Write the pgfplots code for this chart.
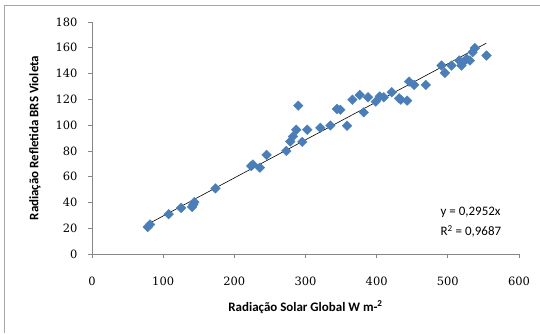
\documentclass[border=0pt]{standalone}
\usepackage{fontspec}
\setmainfont{Carlito}
\newfontfamily\tickfont{DejaVu Serif}
\usepackage{pgfplots}
\pgfplotsset{compat=1.18}
\definecolor{mk}{RGB}{74,126,187}
\definecolor{axc}{RGB}{134,134,134}
\begin{document}
\begin{tikzpicture}
\begin{axis}[
  at={(0,0)}, anchor=south west,
  scale only axis, width=427bp, height=232bp,
  xmin=0, xmax=600, ymin=0, ymax=180,
  xtick={0,100,...,600}, ytick={0,20,...,180},
  axis x line*=bottom, axis y line*=left,
  axis line style={axc, line width=0.7bp, -},
  tick style={axc, line width=0.7bp},
  tick align=outside, major tick length=4bp,
  /pgf/number format/assume math mode=true,
  ticklabel style={font=\fontsize{11.5}{14}\tickfont, text=black},
  xticklabel style={yshift=-15bp},
  yticklabel style={xshift=-7bp},
  clip=false,
]
\addplot[only marks, mark=square*, mark size=3.4bp, mark options={rotate=45, fill=mk, draw=mk}] coordinates {
(78.3,21.0) (81.6,22.9) (107.8,30.9) (125.2,35.8) (140.7,36.6) (142.5,38.5)
(143.9,40.3) (173.5,50.9) (223.7,68.3) (226,69.4) (235.8,67) (245.3,76.9)
(273,80) (278.6,87.3) (282.3,91.2) (287,96.4) (289.8,115.1) (295.4,87)
(302.5,96.4) (320.8,97.9) (334.9,99.7) (344.3,112.5) (349,111.9) (358.4,99.5)
(365.9,119.7) (376.2,123.4) (381.8,109.9) (387.9,121.6) (398.7,118.2)
(404.3,122.3) (410,121.6) (421.2,125.5) (431.5,120.8) (434,119.7) (442.8,119)
(445.6,133.8) (452.6,131.2) (469,131.2) (491.1,146.2) (495.8,140.5)
(505.2,146.2) (516,150.1) (519.2,146.2) (521.6,148.8) (526.3,151.4)
(531,150.1) (534.7,156.6) (538,159.7) (554.4,154)
};
\addplot[black, line width=0.6bp] coordinates {(78,23.03) (554,163.54)};
\node[anchor=west, font=\fontsize{13}{15}\selectfont] at (axis cs:485,32.6) {y = 0,2952x};
\node[anchor=west, font=\fontsize{13}{15}\selectfont] at (axis cs:485,17.8) {R\textsuperscript{2} = 0,9687};
\node[font=\fontsize{13}{15}\selectfont\bfseries] at ([yshift=-53bp]rel axis cs:0.5,0) {Radiação Solar Global W m-\textsuperscript{2}};
\node[rotate=90, font=\fontsize{13}{15}\selectfont\bfseries] at ([xshift=-57bp]rel axis cs:0,0.5) {Radiação Refletida BRS Violeta};
\coordinate (BL) at ([shift={(-92bp,-79bp)}]rel axis cs:0,0);
\coordinate (TR) at ([shift={(21bp,22bp)}]rel axis cs:1,1);
\end{axis}
\path (BL|-TR) coordinate (TL);
\draw[gray!70, line width=0.8bp] ([xshift=4.5bp]BL) -- ([shift={(4.5bp,-5bp)}]TL) -- ([yshift=-5bp]TR);
\pgfresetboundingbox
\path (BL) rectangle (TR);
\end{tikzpicture}
\end{document}
